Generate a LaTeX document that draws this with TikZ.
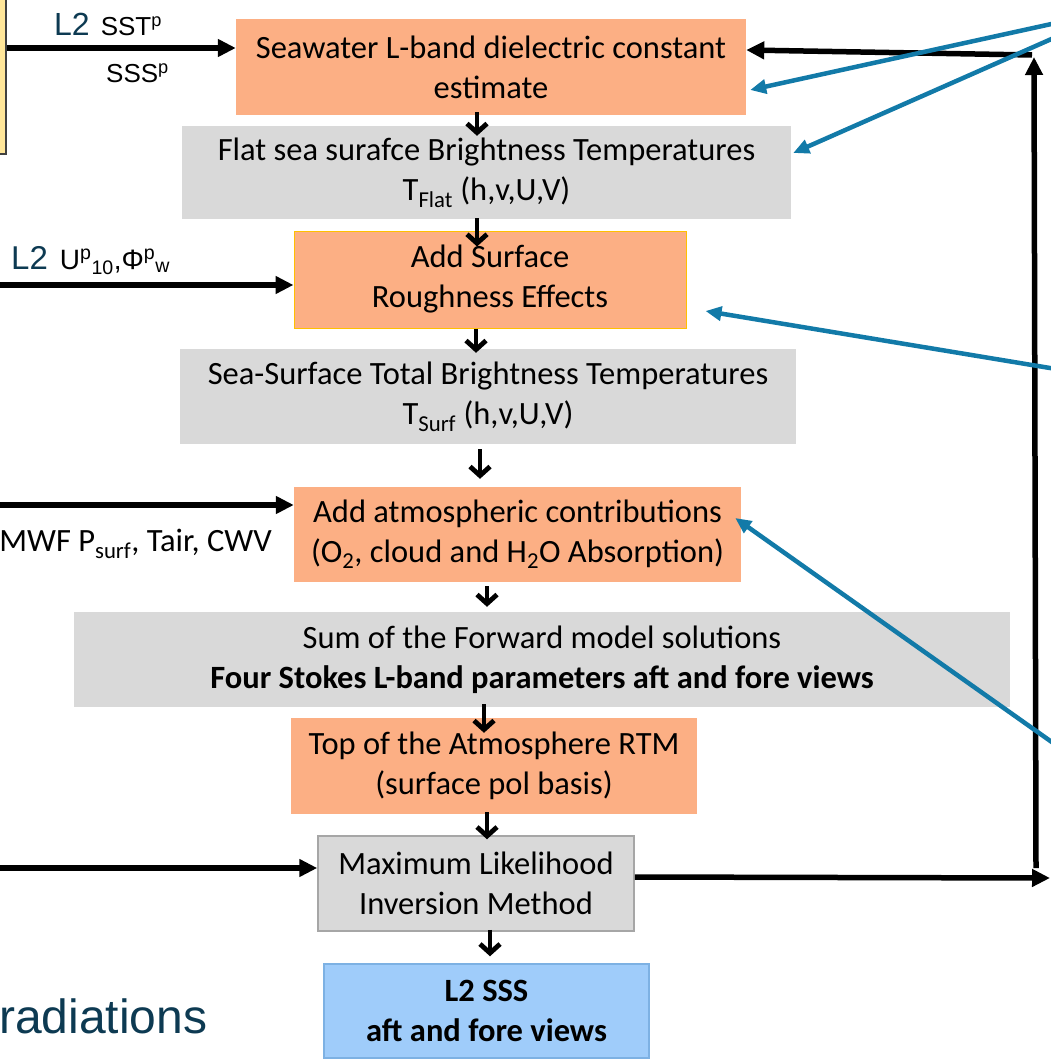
\documentclass[tikz,border=0pt]{standalone}
\usepackage{fontspec}
\setmainfont{Carlito}
\newfontfamily\arialf{Liberation Sans}
\usetikzlibrary{arrows.meta}
\definecolor{orangebox}{HTML}{FCAF84}
\definecolor{graybox}{HTML}{D9D9D9}
\definecolor{grayedge}{HTML}{A6A6A6}
\definecolor{bluebox}{HTML}{9FCCFA}
\definecolor{blueedge}{HTML}{7DB1E3}
\definecolor{yelbox}{HTML}{FFE699}
\definecolor{yeledge}{HTML}{FFC000}
\definecolor{tealtxt}{HTML}{0D3A52}
\definecolor{arrowblue}{HTML}{127AA8}
\begin{document}
\begin{tikzpicture}[x=1pt,y=-1pt,
  box/.style={rectangle, inner sep=0pt, align=center, font=\fontsize{32.5}{40}\selectfont},
  obox/.style={box, fill=orangebox},
  gbox/.style={box, fill=graybox},
  harrow/.style={line width=5.5pt, -{Triangle[length=18pt,width=17pt]}},
  varrow/.style={line width=4.8pt, -{Straight Barb[length=9pt,width=20pt]}},
  barrow/.style={arrowblue, line width=4.5pt, -{Triangle[length=16pt,width=14pt]}},
  lbl/.style={inner sep=0pt, anchor=base west},
]
\useasboundingbox (0,0) rectangle (1050,1062);

% left yellow box
\node[rectangle, fill=yelbox, draw=black!75, line width=2pt, minimum width=26pt, minimum height=174pt, inner sep=0pt] (ybox) at (-7,67) {};

% main boxes
\node[obox, minimum width=510pt, minimum height=96pt] (sw) at (491,67) {Seawater L-band dielectric constant\\estimate};
\node[gbox, minimum width=609pt, minimum height=93pt] (flat) at (486.5,172.5) {Flat sea surafce Brightness Temperatures\\T\textsubscript{Flat} (h,v,U,V)};
\node[obox, draw=yeledge, line width=1pt, minimum width=392pt, minimum height=97pt] (rough) at (490,279.5) {Add Surface\\Roughness Effects};
\node[gbox, minimum width=616pt, minimum height=95pt] (surf) at (488,396.5) {Sea-Surface Total Brightness Temperatures\\T\textsubscript{Surf} (h,v,U,V)};
\node[obox, minimum width=447pt, minimum height=95pt] (atm) at (517.5,534.5) {Add atmospheric contributions\\(O\textsubscript{2}, cloud and H\textsubscript{2}O Absorption)};
\node[gbox, minimum width=936pt, minimum height=95pt] (sum) at (542,659.5) {Sum of the Forward model solutions\\\textbf{Four Stokes L-band parameters aft and fore views}};
\node[obox, minimum width=406pt, minimum height=96pt] (toa) at (494,766) {Top of the Atmosphere RTM\\(surface pol basis)};
\node[gbox, draw=grayedge, line width=1.5pt, minimum width=316pt, minimum height=95pt] (mle) at (476,883.5) {Maximum Likelihood\\Inversion Method};
\node[box, fill=bluebox, draw=blueedge, line width=1.5pt, minimum width=325pt, minimum height=94pt] (sss) at (486.5,1011) {\textbf{L2 SSS}\\\textbf{aft and fore views}};

% vertical arrows
\draw[varrow] ([xshift=-14pt,yshift=3pt]sw.south) -- ([xshift=-9.5pt,yshift=-10pt]flat.north);
\draw[varrow] ([xshift=-9.5pt,yshift=1pt]flat.south) -- ([xshift=-13pt,yshift=-16pt]rough.north);
\draw[varrow] ([xshift=-14pt]rough.south) -- ([xshift=-12pt,yshift=-4pt]surf.north);
\draw[varrow] ([xshift=-8pt,yshift=-5pt]surf.south) -- ([xshift=-37.5pt,yshift=8pt]atm.north);
\draw[varrow] ([xshift=-30.5pt,yshift=-4pt]atm.south) -- ([xshift=-55pt,yshift=5pt]sum.north);
\draw[varrow] ([xshift=-58pt,yshift=3pt]sum.south) -- ([xshift=-10pt,yshift=-15pt]toa.north);
\draw[varrow] ([xshift=-7pt,yshift=2pt]toa.south) -- ([xshift=11pt,yshift=-4pt]mle.north);
\draw[varrow] ([xshift=14pt,yshift=2pt]mle.south) -- ([xshift=3.5pt,yshift=7pt]sss.north);

% input arrows from the left
\coordinate (in2) at (-5,285);
\coordinate (in3) at (-5,505);
\coordinate (in4) at (-5,868);
\draw[harrow] ([yshift=19pt]ybox.east) -- ([yshift=19pt]sw.west);
\draw[harrow] (in2) -- ([yshift=-5.5pt]rough.west);
\draw[harrow] (in3) -- ([yshift=29.5pt]atm.west);
\draw[harrow] (in4) -- ([yshift=15.5pt]mle.west);

% output and feedback
\coordinate (outr) at (1050,878);
\coordinate (fbbot) at (1036,868);
\coordinate (fbtop) at (1034,57);
\coordinate (fbcorner) at (1032,55);
\draw[harrow] ([yshift=6.5pt]mle.east) -- (outr);
\draw[harrow] (fbbot) -- (fbtop);
\draw[harrow] (fbcorner) -- ([yshift=17pt]sw.east);

% blue pointer arrows
\coordinate (b1) at (1056,23);
\coordinate (b2) at (1056,37);
\coordinate (b3) at (1056,369);
\coordinate (b4) at (1056,745);
\draw[barrow] (b1) -- ([xshift=4pt,yshift=-23pt]sw.east);
\draw[barrow] (b2) -- ([xshift=2pt,yshift=19.5pt]flat.east);
\draw[barrow] (b3) -- ([xshift=19pt,yshift=-31.5pt]rough.east);
\draw[barrow] (b4) -- ([xshift=-6pt,yshift=16.5pt]atm.east);

% labels
\node[lbl] (l1) at (54,36) {{\arialf\color{tealtxt}\fontsize{32}{32}\selectfont L2}\hspace{11pt}{\arialf\fontsize{26}{26}\selectfont SST\textsuperscript{p}}};
\node[lbl] (l2) at (106,83) {\arialf\fontsize{26}{26}\selectfont SSS\textsuperscript{p}};
\node[lbl] (l3) at (11,269) {{\arialf\color{tealtxt}\fontsize{33}{33}\selectfont L2}\hspace{12pt}{\arialf\fontsize{28}{28}\selectfont U\textsuperscript{p}\textsubscript{10},Φ\textsuperscript{p}\textsubscript{w}}};
\node[inner sep=0pt, anchor=base east] (l4) at (272,551) {\fontsize{32.5}{32.5}\selectfont ECMWF P\textsubscript{surf}, Tair, CWV};
\node[lbl] (l5) at (-1,1033) {\arialf\color{tealtxt}\fontsize{48}{48}\selectfont radiations};
\end{tikzpicture}
\end{document}
